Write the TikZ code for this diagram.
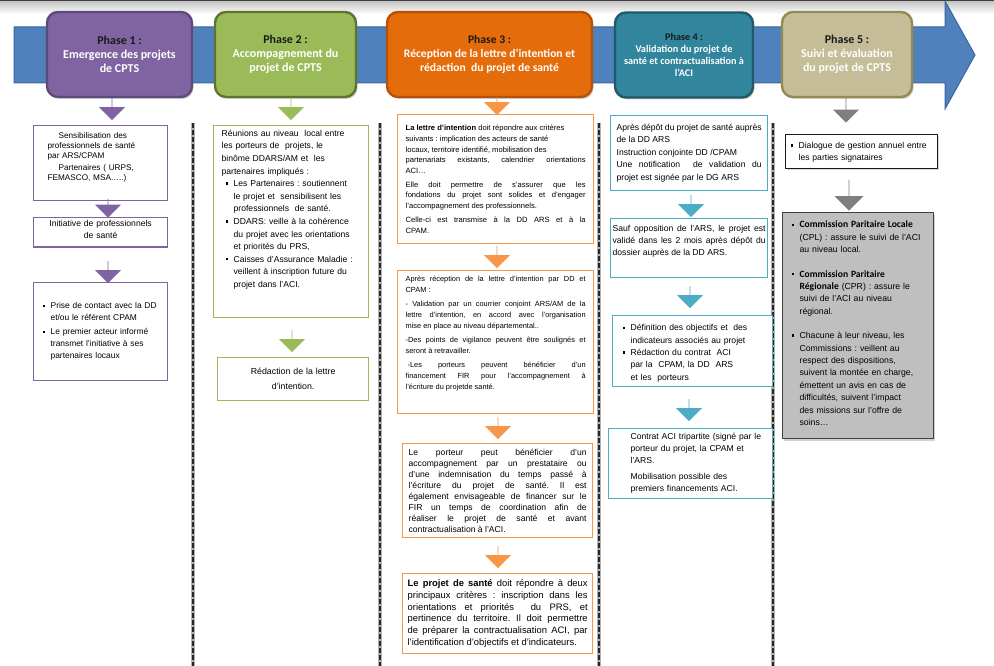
\documentclass[tikz,border=0pt]{standalone}
\usepackage{fontspec}
\setmainfont{Liberation Sans}
\newfontfamily\headfont{Carlito}
\usetikzlibrary{shapes.arrows,shadows}
\frenchspacing

\definecolor{arrowblue}{HTML}{4F81BD}
\definecolor{arrowline}{HTML}{3A65A0}
\definecolor{purplefill}{HTML}{8064A2}
\definecolor{purpledark}{HTML}{5E4A7A}
\definecolor{greenfill}{HTML}{9BBB59}
\definecolor{greendark}{HTML}{5E7530}
\definecolor{orangefill}{HTML}{E46C0A}
\definecolor{orangedark}{HTML}{B35208}
\definecolor{orangeline}{HTML}{F79646}
\definecolor{tealfill}{HTML}{31859C}
\definecolor{tealdark}{HTML}{215968}
\definecolor{tealline}{HTML}{4BACC6}
\definecolor{khakifill}{HTML}{C4BD97}
\definecolor{khakidark}{HTML}{948A54}
\definecolor{greyarrow}{HTML}{7F7F7F}
\definecolor{greybox}{HTML}{BFBFBF}
\definecolor{hdark}{HTML}{1A1A1A}

\newcommand{\fs}[2]{\fontsize{#1}{#2}\selectfont}
\newcommand{\sqbullet}{\raisebox{0.22em}{\rule{0.28em}{0.28em}}}
% square bullet with hanging indent (lines inside an item: \newline)
\newcommand{\bitem}{\par\hangindent=8pt\hangafter=1\noindent\makebox[8pt][l]{\sqbullet}}
% bullet item set in its own box: indent, width, text
\newcommand{\boxitem}[3]{\par\noindent\hspace*{#1}\makebox[8pt][l]{\sqbullet}%
  \parbox[t]{#2}{\raggedright #3\strut}\par\prevdepth=\dp\strutbox}
% empty room under the text of a box
\newcommand{\room}[1]{\par\kern#1}

\begin{document}
\begin{tikzpicture}[x=1pt,y=-1pt,
    phase/.style 2 args={fill=#1, draw=#2, line width=2.4pt, rounded corners=11pt,
      minimum height=85pt, align=center, text=white, font=\headfont\bfseries\fs{12}{14},
      drop shadow={shadow xshift=1.5pt, shadow yshift=-2pt, opacity=0.35}},
    colbox/.style={draw=#1, line width=1.3pt, fill=white, anchor=north west,
      inner xsep=5pt, inner ysep=3pt, align=left},
    downarrow/.style={single arrow, fill=#1, draw=none, rotate=-90, inner sep=0pt,
      minimum width=26pt, single arrow head extend=6.5pt, minimum height=22pt},
    sepline/.style={line width=2.3pt, dash pattern=on 5pt off 2pt, black!85}
  ]
  \useasboundingbox (0,0) rectangle (994,666);
  \fill[white] (0,0) rectangle (994,666);
  \shade[top color=black!25, bottom color=white] (0,0) rectangle (994,14);
  \fill[black!75] (0,0) rectangle (994,1.5);

  % time line
  \draw[fill=arrowblue, draw=arrowline, line width=1pt]
    (14,27) -- (945,27) -- (945,1) -- (975,55) -- (945,109) -- (945,83) -- (14,83) -- cycle;

  % phases
  \node[phase={purplefill}{purpledark}, minimum width=145pt] (ph1) at (119.5,54.5)
    {{\color{hdark}Phase 1 :}\\ Emergence des projets\\ de CPTS};
  \node[phase={greenfill}{greendark}, minimum width=141pt] (ph2) at (285.5,54.5)
    {{\color{hdark}Phase 2 :}\\ Accompagnement du\\ projet de CPTS};
  \node[phase={orangefill}{orangedark}, minimum width=205pt, font=\headfont\bfseries\fs{11.6}{14}] (ph3) at (489.5,54.5)
    {{\color{hdark}Phase 3 :}\\ Réception de la lettre d’intention et\\ rédaction\ \ du projet de santé};
  \node[phase={tealfill}{tealdark}, minimum width=138pt, font=\headfont\bfseries\fs{10.2}{12}] (ph4) at (684,55)
    {{\color{hdark}Phase 4 :}\\ Validation du projet de\\ santé et contractualisation à\\ l’ACI};
  \node[phase={khakifill}{khakidark}, minimum width=130pt] (ph5) at (847,54.5)
    {{\color{hdark}Phase 5 :}\\ Suivi et évaluation\\ du projet de CPTS};

  % separators
  \foreach \sx in {193,380,599,773} {
    \draw[line width=3.4pt, black!30] (\sx,123) -- (\sx,666);
    \draw[sepline] (\sx,123) -- (\sx,666);
  }

  % column 1
  \node[downarrow=purplefill] (a11) at (112,109) {};
  \node[colbox=purplefill, inner xsep=14pt, text width=106pt, minimum height=75pt, font=\fs{8.2}{10}] (sens) at (33,125)
    {\hspace*{11pt}Sensibilisation des\\ professionnels de santé\\ par ARS/CPAM\\[2.5pt] \hspace*{11pt}Partenaires ( URPS,\\ FEMASCO, MSA…..)\room{12pt}};
  \node[downarrow=purplefill, minimum height=19pt] (a12) at (108,208) {};
  \node[colbox=purplefill, text width=124pt, minimum height=29pt, align=center, font=\fs{8.6}{12}] (init) at (33,217)
    {Initiative de professionnels\\ de santé\room{5pt}};
  \node[downarrow=purplefill] (a13) at (108,272) {};
  \node[colbox=purplefill, inner xsep=9pt, text width=116pt, minimum height=98pt, font=\fs{8.4}{12}] (contact) at (33,282)
    {\bitem Prise de contact avec la DD\newline et/ou le référent CPAM\par\vspace{2pt}
     \bitem Le premier acteur informé\newline transmet l’initiative à ses\newline partenaires locaux\room{6pt}};

  % column 2
  \node[downarrow=greenfill] (a21) at (291,109) {};
  \node[colbox=greenfill, inner xsep=8pt, text width=139pt, minimum height=192pt, font=\fs{8.6}{12.6}] (reunions) at (213,125)
    {Réunions au niveau\ \ local entre\\ les porteurs de\ \ projets, le\\ binôme DDARS/AM et\ \ les\\ partenaires impliqués :
     \boxitem{4pt}{127pt}{Les Partenaires : soutiennent\\ le projet et\ \ sensibilisent les\\ professionnels\ \ de santé.}
     \boxitem{4pt}{127pt}{DDARS:\ veille à la cohérence\\ du projet avec les orientations\\ et priorités du PRS,}
     \boxitem{4pt}{127pt}{Caisses d’Assurance Maladie :\\ veillent à inscription future du\\ projet dans l’ACI.}\room{22pt}};
  \node[downarrow=greenfill] (a22) at (292,341) {};
  \node[colbox=greenfill, text width=141pt, minimum height=43pt, align=center, font=\fs{8.8}{15}] (redaction) at (217,357)
    {Rédaction de la lettre\\ d’intention.};

  % column 3
  \node[downarrow=orangeline, minimum height=18pt] (a31) at (497,106) {};
  \node[colbox=orangeline, inner xsep=8pt, text width=180pt, minimum height=129pt, align=justify, font=\fs{7.6}{10.7}] (lettre) at (397,114)
    {\textbf{La lettre d’intention} doit répondre aux critères\\ suivants : implication des acteurs de santé\\ locaux, territoire identifié, mobilisation des\\ partenariats existants, calendrier orientations\linebreak ACI…\par\vspace{3pt}
     Elle doit permettre de s’assurer que les\linebreak fondations du projet sont solides et d’engager\linebreak l’accompagnement des professionnels.\par\vspace{3pt}
     Celle-ci est transmise à la DD ARS et à la\linebreak CPAM.};
  \node[downarrow=orangeline] (a32) at (497,257) {};
  \node[colbox=orangeline, inner xsep=8pt, text width=180pt, minimum height=143pt, align=justify, font=\fs{7.4}{11}] (reception) at (397,270)
    {Après réception de la lettre d’intention par DD et\linebreak CPAM :\par\vspace{3pt}
     - Validation par un courrier conjoint ARS/AM de la\linebreak lettre d’intention, en accord avec l’organisation\linebreak mise en place au niveau départemental..\par\vspace{3pt}
     -Des points de vigilance peuvent être soulignés et\linebreak seront à retravailler.\par\vspace{3pt}
     \hspace*{2pt}-Les porteurs peuvent bénéficier d’un\linebreak financement FIR pour l’accompagnement à\linebreak l’écriture du projetde santé.\room{18pt}};
  \node[downarrow=orangeline] (a33) at (498,428) {};
  \node[colbox=orangeline, inner xsep=6pt, text width=178pt, minimum height=94pt, align=justify, font=\fs{8.6}{11}] (porteur) at (402,443)
    {Le porteur peut bénéficier d’un\linebreak accompagnement par un prestataire ou\linebreak d’une indemnisation du temps passé à\linebreak l’écriture du projet de santé. Il est\linebreak également envisageable de financer sur le\linebreak FIR un temps de coordination afin de\linebreak réaliser le projet de santé et avant\linebreak contractualisation à l’ACI.};
  \node[downarrow=orangeline] (a34) at (498,557) {};
  \node[colbox=orangeline, inner xsep=5pt, text width=180pt, minimum height=80pt, align=justify, font=\fs{9.4}{11.7}] (projet) at (402,573)
    {\textbf{Le projet de santé} doit répondre à deux\linebreak principaux critères : inscription dans les\linebreak orientations et priorités\ \ du PRS, et\linebreak pertinence du territoire. Il doit permettre\linebreak de préparer la contractualisation ACI, par\linebreak l’identification d’objectifs et d’indicateurs.};

  % column 4
  \node[colbox=tealline, inner xsep=6pt, text width=145pt, minimum height=75pt, align=justify, font=\fs{8.6}{12.5}] (depot) at (610,115)
    {Après dépôt du projet de santé auprès\\ de la DD ARS\\ Instruction conjointe DD /CPAM\\ Une notification\ \ de validation du\linebreak projet est\ signée par le DG ARS};
  \node[downarrow=tealline] (a41) at (691,206) {};
  \node[colbox=tealline, inner xsep=2pt, text width=153pt, minimum height=59pt, align=justify, font=\fs{8.6}{12}] (opposition) at (610,218)
    {Sauf opposition de l’ARS, le projet est\linebreak validé dans les 2 mois après dépôt du\linebreak dossier auprès de la DD ARS.\room{14pt}};
  \node[downarrow=tealline] (a42) at (690,297) {};
  \node[colbox=tealline, inner xsep=10pt, text width=140pt, minimum height=67pt, font=\fs{8.6}{12.3}] (definition) at (612,315)
    {\boxitem{0pt}{132pt}{Définition des objectifs et\ \ des\\ indicateurs associés au projet}
     \boxitem{0pt}{132pt}{Rédaction du contrat\ \ ACI\\ par la\ \ CPAM, la DD\ \ ARS\\ et les\ \ porteurs}};
  \node[downarrow=tealline] (a43) at (689,410) {};
  \node[colbox=tealline, inner xsep=4pt, text width=156pt, minimum height=70pt, font=\fs{8.6}{12}] (contrat) at (608,428)
    {\hspace*{18pt}Contrat ACI tripartite (signé par le\\ \hspace*{18pt}porteur du projet, la CPAM et\\ \hspace*{18pt}l’ARS.\\[4pt]
     \hspace*{18pt}Mobilisation possible des\\ \hspace*{18pt}premiers financements ACI.};

  % column 5
  \node[downarrow=greyarrow, minimum height=25pt] (a51) at (846,110) {};
  \node[colbox=hdark, line width=1.2pt, inner xsep=5pt, inner ysep=2pt, text width=142pt, minimum height=28pt, font=\fs{8.6}{12},
    drop shadow={shadow xshift=1pt, shadow yshift=-1.5pt, opacity=0.3}] (dialogue) at (785,134)
    {\bitem Dialogue de gestion annuel entre\newline les parties signataires\room{4pt}};
  \node[downarrow=greyarrow, minimum height=31pt, minimum width=29pt, single arrow head extend=7pt] (a52) at (849,195) {};
  \node[colbox=black!75, fill=greybox, line width=1.2pt, inner xsep=9pt, text width=133pt, minimum height=221pt, font=\fs{8.7}{12.4},
    drop shadow={shadow xshift=1.5pt, shadow yshift=-2pt, opacity=0.35}] (commissions) at (782,212)
    {\bitem {\headfont\bfseries\fs{9.6}{12.4}Commission Paritaire Locale}\newline (CPL) : assure le suivi de l’ACI\newline au niveau local.\par\vspace{12pt}
     \bitem {\headfont\bfseries\fs{9.6}{12.4}Commission Paritaire}\newline {\headfont\bfseries\fs{9.6}{12.4}Régionale} (CPR) : assure le\newline suivi de l’ACI au niveau\newline régional.\par\vspace{12pt}
     \bitem Chacune à leur niveau, les\newline Commissions : veillent au\newline respect des dispositions,\newline suivent la montée en charge,\newline émettent un avis en cas de\newline difficultés, suivent l’impact\newline des missions sur l’offre de\newline soins…\room{10pt}};
\end{tikzpicture}
\end{document}
